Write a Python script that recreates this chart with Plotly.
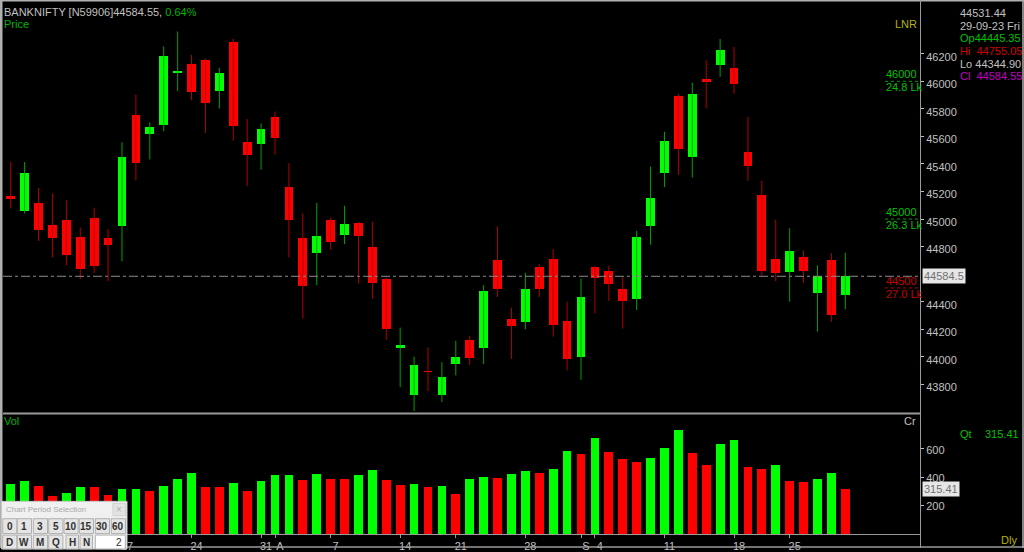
import plotly.graph_objects as go
import pandas as pd

# ---------------- data ----------------
holidays = ["2023-08-15", "2023-09-19"]
dates = pd.bdate_range("2023-07-05", "2023-09-29").drop(pd.to_datetime(holidays))

opens = [45166, 45058, 45118, 44957, 44996, 44870, 45010, 44861, 44950, 45755,
         45620, 45683, 46062, 46129, 46153, 45930, 46286, 45560, 45543, 45740,
         45233, 44861, 44753, 44991, 44885, 44971, 44798, 44565, 44063, 43724,
         43895, 43720, 43948, 44124, 44061, 44702, 44277, 44253, 44654, 44707,
         44263, 43996, 44650, 44621, 44493, 44416, 44952, 45337, 45894, 45450,
         46014, 46117, 46098, 45490, 45178, 44707, 44614, 44722, 44462, 44700,
         44445.35]
highs = [45414, 45414, 45226, 45185, 45137, 44938, 45082, 44926, 45558, 45904,
         45702, 46254, 46362, 46192, 46165, 46098, 46310, 45726, 45695, 45781,
         45406, 45041, 45118, 45010, 45097, 44978, 44981, 44575, 44212, 44001,
         44068, 43960, 44116, 44152, 44520, 44947, 44356, 44609, 44674, 44782,
         44400, 44568, 44658, 44664, 44578, 44914, 45382, 45634, 45910, 45990,
         46153, 46307, 46250, 45742, 45277, 44996, 44933, 44772, 44664, 44753,
         44755.05]
lows = [45077, 45041, 44841, 44722, 44664, 44565, 44609, 44549, 44693, 45281,
        45432, 45637, 45930, 45863, 45625, 45803, 45569, 45238, 45358, 45468,
        44722, 44277, 44520, 44777, 44818, 44532, 44421, 44121, 43780, 43605,
        43749, 43672, 43864, 43941, 43948, 44434, 43984, 44200, 44434, 44147,
        43900, 43833, 44315, 44405, 44205, 44340, 44813, 45233, 45322, 45301,
        45803, 46033, 45911, 45277, 44592, 44549, 44400, 44537, 44183, 44253,
        44344.90]
closes = [45149, 45337, 44921, 44859, 44741, 44637, 44659, 44813, 45450, 45409,
          45666, 46187, 46070, 45920, 45841, 46062, 45673, 45466, 45652, 45587,
          44993, 44513, 44880, 44834, 44962, 44878, 44537, 44198, 44088, 43943,
          43888, 43850, 44001, 43991, 44481, 44493, 44225, 44493, 44493, 44234,
          43987, 44436, 44573, 44532, 44405, 44873, 45154, 45569, 45510, 45906,
          45997, 46230, 45978, 45382, 44621, 44609, 44765, 44621, 44585, 44301,
          44584.55]
volumes = [353, 376, 339, 269, 288, 334, 333, 274, 316, 317,
           302, 339, 390, 432, 334, 333, 357, 302, 371, 413,
           418, 381, 423, 390, 389, 413, 451, 381, 343, 353,
           334, 339, 283, 390, 404, 395, 423, 441, 432, 460,
           585, 562, 674, 576, 525, 506, 534, 604, 734, 571,
           488, 632, 660, 474, 455, 483, 376, 367, 390, 427,
           315.41]

symbol = "BANKNIFTY [N59906]"
change_pct = "0.64%"
cursor_value = "44531.44"
oi_levels = [46000, 45000, 44500]
oi_texts = ["24.8 Lk", "26.3 Lk", "27.0 Lk"]
oi_side = ["call", "call", "put"]
price_ticks = list(range(43800, 46201, 200))
vol_ticks = [200, 400, 600]
period_row1 = ["0", "1", "3", "5", "10", "15", "30", "60"]
period_row2 = ["D", "W", "M", "Q", "H", "N"]
period_value = "2"

# ---------------- helpers ----------------
W, H = 1024, 552
def px(x):
    return x / W
def py(y):
    return 1 - y / H

FONT = "Liberation Sans, Arial, sans-serif"
GRAY = "#c0c0c0"
LINE = "#9a9a9a"
GREEN_T = "#00b400"

X_LEFT, X_RIGHT = 3, 920
X_RANGE = [-0.554, 65.37]
def idx_to_px(i):
    return X_LEFT + (i - X_RANGE[0]) / (X_RANGE[1] - X_RANGE[0]) * (X_RIGHT - X_LEFT)

n = len(closes)
idx = list(range(n))
up = [c >= o for o, c in zip(opens, closes)]
last_close = closes[-1]

# price tick labels hidden under the last-price box are not drawn
shown_price_ticks = [t for t in price_ticks if abs(t - last_close) > 60]

# x tick labels: first trading day of each week -> day, first of month -> month letter
# (labels fully covered by the period-selection window are skipped)
tickvals, ticktext = [], []
for i, d in enumerate(dates):
    prev = dates[i - 1] if i > 0 else None
    if idx_to_px(i) < 110:
        continue
    if prev is not None and d.month != prev.month:
        tickvals.append(i)
        ticktext.append(d.strftime("%b")[0])
        continue
    if prev is None or d.isocalendar()[1] != prev.isocalendar()[1]:
        tickvals.append(i)
        ticktext.append(str(d.day))

fig = go.Figure()

# wicks
for flag, col in [(True, "#00a000"), (False, "#b00000")]:
    xs, ys = [], []
    for i in idx:
        if up[i] == flag:
            xs += [i, i, None]
            ys += [lows[i], highs[i], None]
    fig.add_trace(go.Scatter(x=xs, y=ys, mode="lines", line=dict(color=col, width=1),
                             hoverinfo="skip", xaxis="x", yaxis="y"))

# bodies
body_base = [min(o, c) for o, c in zip(opens, closes)]
body_h = [max(abs(c - o), 10) for o, c in zip(opens, closes)]
fig.add_trace(go.Bar(x=idx, y=body_h, base=body_base, width=0.63,
                     marker=dict(color=["#00ff00" if u else "#ff0000" for u in up], line=dict(width=0)),
                     xaxis="x", yaxis="y", hoverinfo="skip"))

# volume
vcol = ["#00ff00" if (i == 0 or volumes[i] >= volumes[i - 1]) else "#ff0000" for i in idx]
fig.add_trace(go.Bar(x=idx, y=volumes, width=0.63, marker=dict(color=vcol, line=dict(width=0)),
                     xaxis="x", yaxis="y2", hoverinfo="skip"))

axis_common = dict(showgrid=False, zeroline=False, fixedrange=True)
fig.update_layout(
    width=W, height=H,
    margin=dict(l=0, r=0, t=0, b=0),
    paper_bgcolor="black", plot_bgcolor="black",
    showlegend=False, bargap=0, hovermode=False,
    font=dict(family=FONT, size=11, color=GRAY),
    xaxis=dict(domain=[px(X_LEFT), px(X_RIGHT)], range=X_RANGE, anchor="y2",
               tickvals=tickvals, ticktext=ticktext, ticks="outside", ticklen=3,
               tickcolor=LINE, showline=True, linecolor=LINE, linewidth=1,
               tickfont=dict(color=GRAY, size=11), ticklabelshift=5,
               ticklabelstandoff=-1, **axis_common),
    yaxis=dict(domain=[py(415), py(3)], range=[43599, 46569], side="right", anchor="x",
               tickvals=shown_price_ticks, tickformat="d", ticks="outside", ticklen=3,
               tickcolor=GRAY, tickfont=dict(color=GRAY, size=11), ticklabelshift=3,
               ticklabelstandoff=0, showline=False, **axis_common),
    yaxis2=dict(domain=[py(538), py(418)], range=[0, 837], side="right", anchor="x",
                tickvals=vol_ticks, tickformat="d", ticks="outside", ticklen=3, tickcolor=GRAY,
                tickfont=dict(color=GRAY, size=11), ticklabelshift=1,
                ticklabelstandoff=0, showline=False, **axis_common),
)

shapes = []
def pline(x0, y0, x1, y1, color=LINE, width=1, dash="solid"):
    shapes.append(dict(type="line", xref="paper", yref="paper", x0=px(x0), y0=py(y0),
                       x1=px(x1), y1=py(y1), line=dict(color=color, width=width, dash=dash)))
def prect(x0, y0, x1, y1, fill, line="#a0a0a0", lw=1):
    shapes.append(dict(type="rect", xref="paper", yref="paper", x0=px(x0), y0=py(y0),
                       x1=px(x1), y1=py(y1), fillcolor=fill, line=dict(color=line, width=lw),
                       layer="above"))

# frame
pline(0, 0.8, 1024, 0.8, color="#b0b0b0", width=1.5)
shapes.append(dict(type="rect", xref="paper", yref="paper", x0=0, x1=px(2.5), y0=0, y1=1,
                   fillcolor="#b0b0b0", line=dict(width=0)))
pline(3, 416.5, 920, 416.5, color=LINE, width=2)
pline(920.5, 0, 920.5, 552, color=LINE, width=1)
pline(0, 551, 1024, 551, color=LINE, width=1.5)
pline(1023, 0, 1023, 552, color="#b0b0b0", width=1.5)

# current price dash-dot line
shapes.append(dict(type="line", xref="paper", yref="y", x0=px(3), x1=px(920), y0=last_close,
                   y1=last_close, line=dict(color="#8a8a8a", width=1, dash="dashdot")))
# OI level dotted lines
for lvl, side in zip(oi_levels, oi_side):
    shapes.append(dict(type="line", xref="paper", yref="y", x0=px(885), x1=px(920), y0=lvl,
                       y1=lvl, line=dict(color="#00a000" if side == "call" else "#b00000",
                                         width=1, dash="dot")))

annotations = []
def ptext(x, y, text, color=GRAY, size=11, xanchor="left", **kw):
    annotations.append(dict(xref="paper", yref="paper", x=px(x), y=py(y), text=text,
                            showarrow=False, xanchor=xanchor, yanchor="middle",
                            font=dict(color=color, size=size, family=kw.pop("family", FONT)),
                            borderpad=0, **kw))

ptext(3, 12.5, f"{symbol}{last_close:.2f}, <span style='color:{GREEN_T}'>{change_pct}</span>")
ptext(3, 24.5, "Price", color=GREEN_T)
ptext(918, 24, "LNR", color="#b4b400", xanchor="right")
ptext(3, 424, "Vol", color=GREEN_T)
ptext(917, 424, "Cr", color=GRAY, xanchor="right")

# right info panel
last_date = dates[-1]
ptext(959, 13, cursor_value)
ptext(959, 25.7, last_date.strftime("%d-%m-%y %a"))
ptext(959, 38.5, f"Op{opens[-1]:.2f}", color="#00c000")
ptext(959, 51.3, f"Hi&nbsp;&nbsp;{highs[-1]:.2f}", color="#d00000")
ptext(959, 64, f"Lo&nbsp;{lows[-1]:.2f}", color=GRAY)
ptext(959, 76.5, f"Cl&nbsp;&nbsp;{closes[-1]:.2f}", color="#c000c0")
ptext(959, 437, "Qt", color="#00c000")
ptext(1020, 437, f"{volumes[-1]:.2f}", color="#00c000", xanchor="right")
ptext(1018, 544, "Dly", color="#b4b400", xanchor="right")

# OI level labels
for lvl, txt, side in zip(oi_levels, oi_texts, oi_side):
    col = "#00c000" if side == "call" else "#c80000"
    annotations.append(dict(xref="paper", yref="y", x=px(885), y=lvl, text=str(lvl),
                            showarrow=False, xanchor="left", yanchor="bottom",
                            font=dict(color=col, size=11, family=FONT), borderpad=0))
    annotations.append(dict(xref="paper", yref="y", x=px(885), y=lvl, text=txt,
                            showarrow=False, xanchor="left", yanchor="top",
                            font=dict(color=col, size=11, family=FONT), borderpad=0, yshift=1))

# last value boxes on the axes
annotations.append(dict(xref="paper", yref="y", x=px(921.5), y=last_close,
                        text=f"{last_close:.2f}"[:7], showarrow=False, xanchor="left",
                        yanchor="middle", bgcolor="#e6e6e6", borderpad=1,
                        font=dict(color="#707070", size=11, family=FONT)))
annotations.append(dict(xref="paper", yref="y2", x=px(921.5), y=volumes[-1],
                        text=f"{volumes[-1]:.2f}", showarrow=False, xanchor="left",
                        yanchor="middle", bgcolor="#e6e6e6", borderpad=1,
                        font=dict(color="#707070", size=11, family=FONT)))

# chart period selection window
prect(1.5, 505, 127, 553, "#f0f0f0", line="#c8c8c8")
prect(113, 507, 125.5, 519.5, "#e2e2e2", line="#d0d0d0")
ptext(4.5, 513.5, "Chart Period Selection", color="#a8a8a8", size=8)
ptext(119.3, 513.5, "×", color="#b0b0b0", size=10, xanchor="center")
row1_x = [2.7, 17.3, 33.3, 48.7, 64.0, 79.3, 95.3, 111.3]
for i, lab in enumerate(period_row1):
    x0 = row1_x[i]
    x1 = x0 + 14.2
    prect(x0, 522.5, x1, 537.5, "#e4e4e4", line="#b0b0b0")
    ptext((x0 + x1) / 2, 530.5, f"<b>{lab}</b>", color="#303030", size=10, xanchor="center")
row2_x = [2.7, 17.3, 33.3, 48.7, 66.0, 80.0]
for i, lab in enumerate(period_row2):
    x0 = row2_x[i]
    x1 = x0 + (14.2 if i < 4 else 12.5)
    prect(x0, 539, x1, 553, "#e4e4e4", line="#b0b0b0")
    ptext((x0 + x1) / 2, 546.5, f"<b>{lab}</b>", color="#303030", size=10, xanchor="center")
prect(95.3, 539, 125.3, 553, "#ffffff", line="#b0b0b0")
ptext(123, 546, period_value, color="#303030", size=10, xanchor="right")

fig.update_layout(shapes=shapes, annotations=annotations)
fig.write_html("out.html", config={"displayModeBar": False, "staticPlot": True},
               post_script="document.body.style.margin='0';document.body.style.overflow='hidden';")
